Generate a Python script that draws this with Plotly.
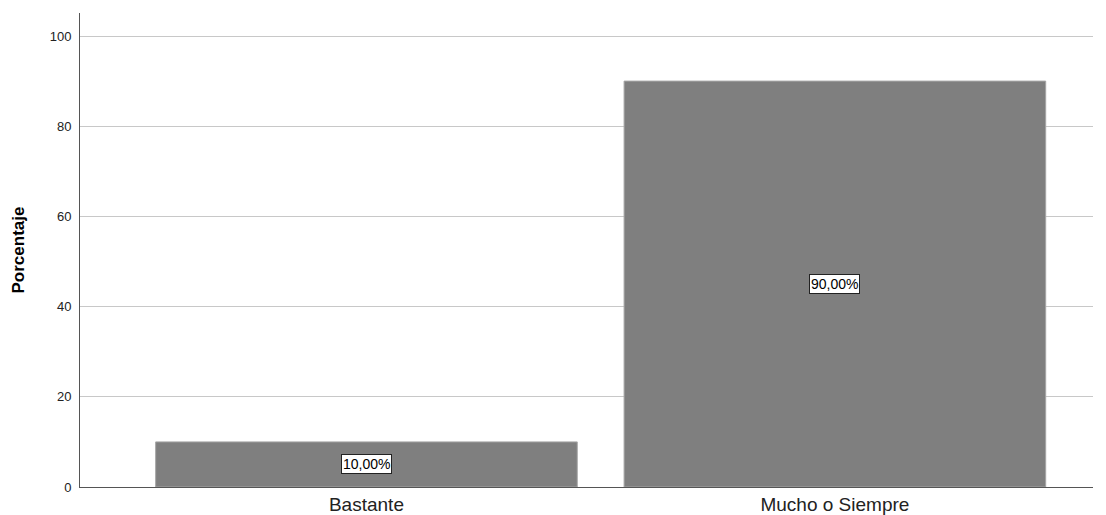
import plotly.graph_objects as go

categories = ["Bastante", "Mucho o Siempre"]
values = [10.0, 90.0]
labels = ["10,00%", "90,00%"]
y_ticks = [0, 20, 40, 60, 80, 100]

fig = go.Figure()
fig.add_trace(go.Bar(
    x=categories, y=values, width=0.9,
    marker=dict(color="#7f7f7f", line=dict(color="#a6a6a6", width=1)),
    hoverinfo="skip",
))
for c, v, t in zip(categories, values, labels):
    fig.add_annotation(x=c, y=v / 2, text=t, showarrow=False,
                       font=dict(family="Liberation Sans, Arial", size=14, color="#000"),
                       bgcolor="white", bordercolor="#222", borderwidth=1, borderpad=1)

fig.update_layout(
    width=1106, height=515,
    margin=dict(l=80, r=13, t=13, b=28, autoexpand=False),
    plot_bgcolor="white", paper_bgcolor="white",
    showlegend=False,
    font=dict(family="Liberation Sans, Arial", color="#222"),
)
fig.update_xaxes(
    type="category", range=[-0.6115, 1.551], automargin=False,
    showline=True, linecolor="#555", linewidth=1,
    showgrid=False, ticks="",
    tickfont=dict(size=19, color="#222"),
)
fig.update_yaxes(
    range=[0, 105.1], tickvals=y_ticks, automargin=False,
    showline=True, linecolor="#555", linewidth=1,
    showgrid=True, gridcolor="#c8c8c8", gridwidth=1,
    zeroline=False, ticks="", ticklabelstandoff=5,
    tickfont=dict(size=13, color="#222"),
    title=dict(text="<b>Porcentaje</b>",
               font=dict(family="Liberation Sans, Arial", size=17, color="#000"),
               standoff=20),
)
fig.write_html("out.html", config={"displayModeBar": False},
               post_script="document.body.style.margin='0';")
